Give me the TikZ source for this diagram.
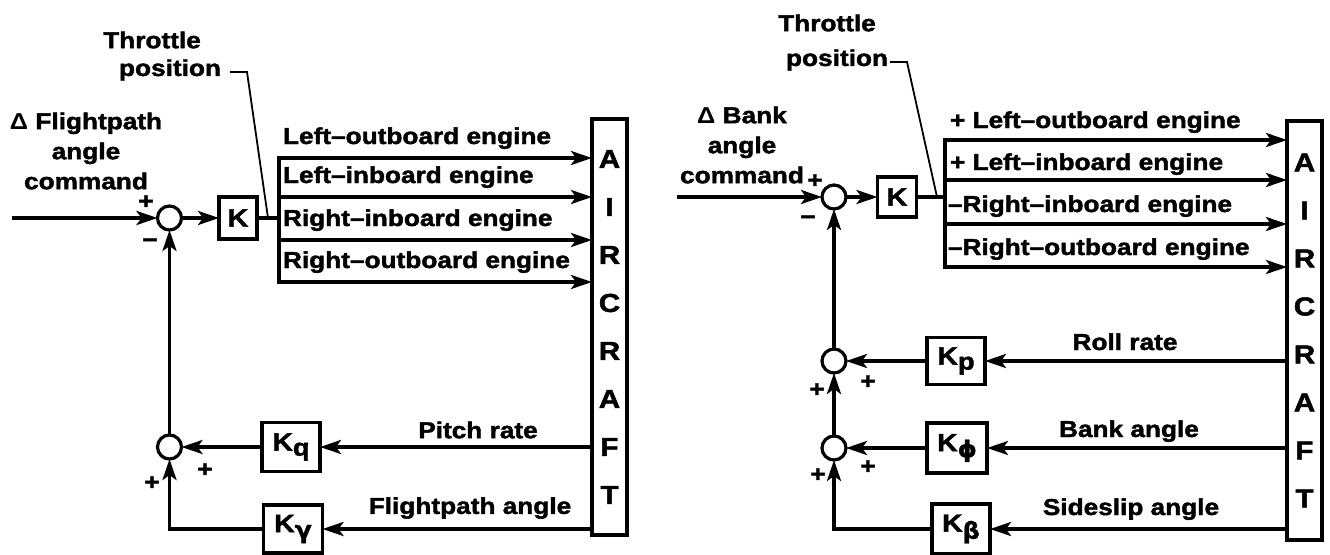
\documentclass[tikz,border=0pt]{standalone}
\usepackage{fontspec}
\usetikzlibrary{arrows.meta,calc}
\newfontfamily\lab{Liberation Sans}[FakeStretch=1.14,FakeBold=1.8]
\newfontfamily\labthin{Liberation Sans}[FakeStretch=1.1]
\newfontfamily\grk{DejaVu Sans}[FakeStretch=1.05,FakeBold=1.2]
\begin{document}
\begin{tikzpicture}[x=1pt,y=-1pt,
  line width=3.4pt,
  every node/.style={inner sep=0pt, outer sep=0pt},
  lbl/.style={font=\lab\bfseries\fontsize{23}{30}\selectfont},
  sgn/.style={font=\lab\bfseries\fontsize{23}{24}\selectfont},
  sumc/.style={draw, circle, minimum size=24pt, line width=3.2pt},
  gbox/.style={draw, line width=3.2pt, font=\lab\bfseries\fontsize{25}{25}\selectfont},
  acbox/.style={draw, line width=3.2pt, minimum width=35pt, align=center,
     font=\lab\bfseries\fontsize{26}{48}\selectfont},
  arr/.style={-{Stealth[length=21pt,width=14pt,inset=5pt]}},
  lead/.style={line width=1.8pt},
]
\useasboundingbox (0,0) rectangle (1330,554);

% ================= LEFT DIAGRAM =================
\node[lbl, align=center] (cmd1) at (86,151) {{\labthin Δ} Flightpath\\angle\\command};
\node[lbl] (thr1) at (152,40) {Throttle};
\node[lbl] (pos1) at (170,70) {position};
\coordinate (t1a) at (230,72);
\coordinate (t1b) at (247,72);
\coordinate (t1c) at (268,218);
\draw[lead] (t1a) -- (t1b) -- (t1c);

\coordinate (in1) at (12,218);
\node[sumc] (s1) at (169.5,218) {};
\node[gbox, minimum width=38pt, minimum height=42pt] (k1) at (238,218) {K};
\node[sgn] (p1) at (146,202) {+};
\node[sgn] (m1) at (150,243) {−};
\draw[arr] (in1) -- (s1.west);
\draw[arr] (s1.east) -- (k1.west);
\coordinate (e1a) at (279,158);
\coordinate (e1b) at (279,197);
\coordinate (e1c) at (279,240);
\coordinate (e1d) at (279,282);
\coordinate (b1) at (279,218);
\draw (k1.east) -- (b1);
\draw[line cap=rect] (e1a) -- (e1d);

\node[acbox, minimum height=416pt] (ac1) at (609.5,327) {A\\I\\R\\C\\R\\A\\F\\T};

\draw[arr] (e1a) -- (e1a -| ac1.west);
\draw[arr] (e1b) -- (e1b -| ac1.west);
\draw[arr] (e1c) -- (e1c -| ac1.west);
\draw[arr] (e1d) -- (e1d -| ac1.west);
\node[lbl, anchor=base west] (l1a) at (283,144) {Left–outboard engine};
\node[lbl, anchor=base west] (l1b) at (283,183) {Left–inboard engine};
\node[lbl, anchor=base west] (l1c) at (283,226) {Right–inboard engine};
\node[lbl, anchor=base west] (l1d) at (283,268) {Right–outboard engine};

\node[sumc] (s2) at (169.5,447) {};
\node[gbox, minimum width=58pt, minimum height=49pt] (kq) at (291,447)
   {K\raisebox{-5pt}{\fontsize{24}{24}\selectfont q}};
\node[gbox, minimum width=59pt, minimum height=48pt] (kg) at (293,529)
   {K\raisebox{-6pt}{\grk\fontsize{24}{24}\selectfont γ}};
\draw[arr] (ac1.west |- kq.east) -- (kq.east);
\draw[arr] (kq.west) -- (s2.east);
\draw[arr] (ac1.west |- kg.east) -- (kg.east);
\draw[arr] (kg.west) -| (s2.south);
\draw[arr] (s2.north) -- (s1.south);
\node[lbl] (pr1) at (478,430) {Pitch rate};
\node[lbl] (fa1) at (470,508) {Flightpath angle};
\node[sgn] (p2) at (205,470) {+};
\node[sgn] (p3) at (152,483) {+};

% ================= RIGHT DIAGRAM =================
\node[lbl, align=center] (cmd2) at (742,145) {{\labthin Δ} Bank\\angle\\command};
\node[lbl] (thr2) at (827,23) {Throttle};
\node[lbl] (pos2) at (837,60) {position};
\coordinate (t2a) at (890,62);
\coordinate (t2b) at (907,62);
\coordinate (t2c) at (937,197);
\draw[lead] (t2a) -- (t2b) -- (t2c);

\coordinate (in2) at (677,197);
\node[sumc] (s3) at (834,197) {};
\node[gbox, minimum width=39pt, minimum height=40pt] (k2) at (897,197) {K};
\node[sgn] (p4) at (815,181) {+};
\node[sgn] (m2) at (808,220) {−};
\draw[arr] (in2) -- (s3.west);
\draw[arr] (s3.east) -- (k2.west);
\coordinate (e2a) at (945,140);
\coordinate (e2b) at (945,180);
\coordinate (e2c) at (945,224);
\coordinate (e2d) at (945,267);
\coordinate (b2) at (945,197);
\draw (k2.east) -- (b2);
\draw[line cap=rect] (e2a) -- (e2d);

\node[acbox, minimum height=419pt] (ac2) at (1304.5,330.5) {A\\I\\R\\C\\R\\A\\F\\T};

\draw[arr] (e2a) -- (e2a -| ac2.west);
\draw[arr] (e2b) -- (e2b -| ac2.west);
\draw[arr] (e2c) -- (e2c -| ac2.west);
\draw[arr] (e2d) -- (e2d -| ac2.west);
\node[lbl, anchor=base west] (l2a) at (950,128) {+ Left–outboard engine};
\node[lbl, anchor=base west] (l2b) at (950,170) {+ Left–inboard engine};
\node[lbl, anchor=base west] (l2c) at (948,212) {–Right–inboard engine};
\node[lbl, anchor=base west] (l2d) at (948,255) {–Right–outboard engine};

\node[sumc] (s4) at (834,361) {};
\node[sumc] (s5) at (834,448) {};
\node[gbox, minimum width=58pt, minimum height=47pt] (kp) at (956,361)
   {K\raisebox{-5pt}{\fontsize{24}{24}\selectfont p}};
\node[gbox, minimum width=60pt, minimum height=50pt] (kf) at (957,448)
   {K\raisebox{-6pt}{\grk\fontsize{23}{23}\selectfont ϕ}};
\node[gbox, minimum width=58pt, minimum height=50pt] (kb) at (961,529)
   {K\raisebox{-7pt}{\grk\fontsize{23}{23}\selectfont β}};
\draw[arr] (ac2.west |- kp.east) -- (kp.east);
\draw[arr] (kp.west) -- (s4.east);
\draw[arr] (ac2.west |- kf.east) -- (kf.east);
\draw[arr] (kf.west) -- (s5.east);
\draw[arr] (ac2.west |- kb.east) -- (kb.east);
\draw[arr] (kb.west) -| (s5.south);
\draw[arr] (s5.north) -- (s4.south);
\draw[arr] (s4.north) -- (s3.south);
\node[lbl, anchor=base] (rr) at (1125,350) {Roll rate};
\node[lbl, anchor=base] (ba) at (1129,437) {Bank angle};
\node[lbl, anchor=base] (sa) at (1131,515) {Sideslip angle};
\node[sgn] (p5) at (868,382) {+};
\node[sgn] (p6) at (817,390) {+};
\node[sgn] (p7) at (868,467) {+};
\node[sgn] (p8) at (818,475) {+};
\end{tikzpicture}
\end{document}
